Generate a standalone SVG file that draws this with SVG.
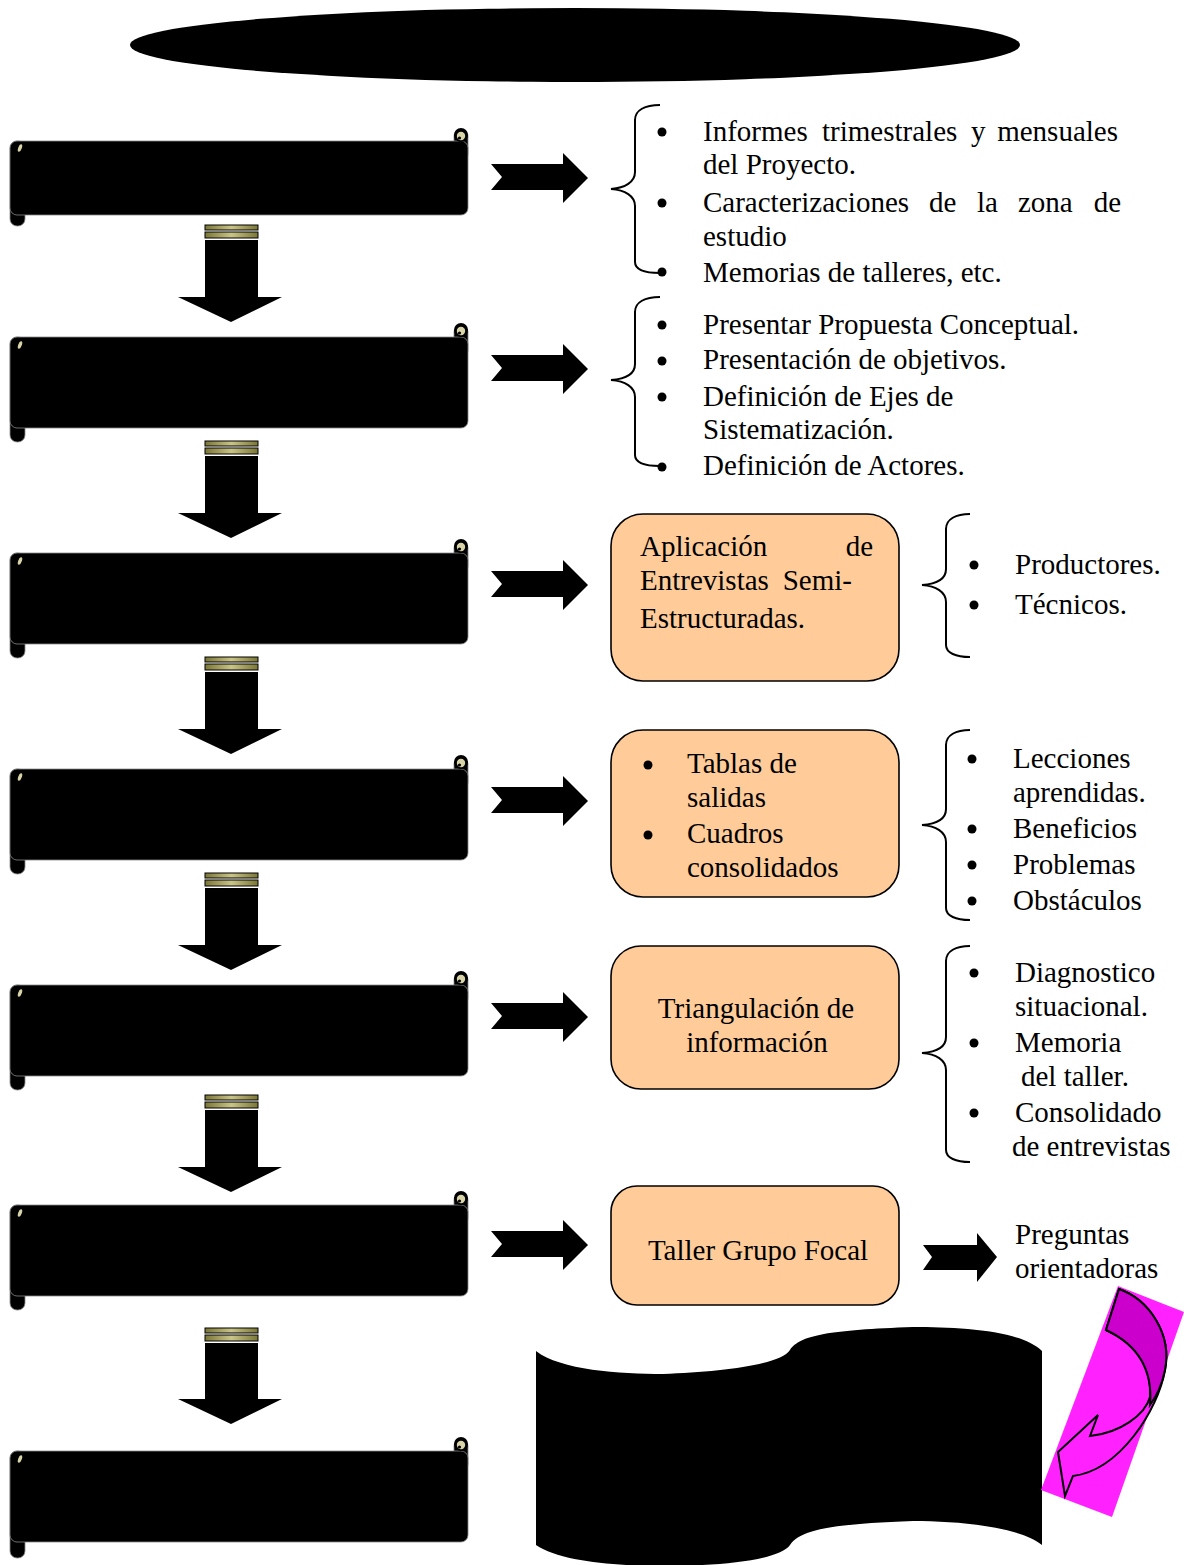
<svg xmlns="http://www.w3.org/2000/svg" width="1184" height="1565" viewBox="0 0 1184 1565">
<style>
.t{font-family:"Liberation Serif","Times New Roman",serif;font-size:29px;fill:#000}
.box{fill:#FFCC99;stroke:#000;stroke-width:1.6}
.brace{fill:none;stroke:#000;stroke-width:2}
.sc{fill:#000;stroke:#888;stroke-width:0.8}
.beige{fill:#D9D3A8}
.bar{fill:url(#olive);stroke:#000;stroke-width:1}
</style>
<defs>
<linearGradient id="olive" x1="0" y1="0" x2="1" y2="0">
<stop offset="0" stop-color="#7a7636"/><stop offset="0.5" stop-color="#c9c487"/><stop offset="1" stop-color="#7a7636"/>
</linearGradient>
<g id="rarrow"><polygon points="491,-14 563,-14 563,-25 588,0 563,25 563,12 491,12 502,-1"/></g>
</defs>

<g id="title"><ellipse cx="575" cy="45" rx="445" ry="37" fill="#000"/></g>

<g id="scrolls">
<g id="scroll1"><rect class="sc" x="10" y="141" width="15" height="85" rx="7"/><rect class="sc" x="454" y="130" width="14" height="30" rx="6"/><rect class="sc" x="10" y="141" width="458" height="74" rx="7"/><circle cx="461" cy="135" r="7" fill="#000"/><circle cx="461" cy="136" r="4.2" class="beige"/><circle cx="459.5" cy="138" r="1.6" fill="#000"/><ellipse cx="20" cy="148" rx="1.8" ry="4" class="beige" transform="rotate(20 20 148)"/></g>
<g id="scroll2"><rect class="sc" x="10" y="337" width="15" height="105" rx="7"/><rect class="sc" x="454" y="326" width="14" height="30" rx="6"/><rect class="sc" x="10" y="337" width="458" height="91" rx="7"/><circle cx="461" cy="330" r="7" fill="#000"/><circle cx="461" cy="331" r="4.2" class="beige"/><circle cx="459.5" cy="333" r="1.6" fill="#000"/><ellipse cx="20" cy="345" rx="1.8" ry="4" class="beige" transform="rotate(20 20 345)"/></g>
<g id="scroll3"><rect class="sc" x="10" y="553" width="15" height="105" rx="7"/><rect class="sc" x="454" y="542" width="14" height="30" rx="6"/><rect class="sc" x="10" y="553" width="458" height="91" rx="7"/><circle cx="461" cy="546" r="7" fill="#000"/><circle cx="461" cy="547" r="4.2" class="beige"/><circle cx="459.5" cy="549" r="1.6" fill="#000"/><ellipse cx="20" cy="561" rx="1.8" ry="4" class="beige" transform="rotate(20 20 561)"/></g>
<g id="scroll4"><rect class="sc" x="10" y="769" width="15" height="105" rx="7"/><rect class="sc" x="454" y="758" width="14" height="30" rx="6"/><rect class="sc" x="10" y="769" width="458" height="91" rx="7"/><circle cx="461" cy="762" r="7" fill="#000"/><circle cx="461" cy="763" r="4.2" class="beige"/><circle cx="459.5" cy="765" r="1.6" fill="#000"/><ellipse cx="20" cy="777" rx="1.8" ry="4" class="beige" transform="rotate(20 20 777)"/></g>
<g id="scroll5"><rect class="sc" x="10" y="985" width="15" height="105" rx="7"/><rect class="sc" x="454" y="974" width="14" height="30" rx="6"/><rect class="sc" x="10" y="985" width="458" height="91" rx="7"/><circle cx="461" cy="978" r="7" fill="#000"/><circle cx="461" cy="979" r="4.2" class="beige"/><circle cx="459.5" cy="981" r="1.6" fill="#000"/><ellipse cx="20" cy="993" rx="1.8" ry="4" class="beige" transform="rotate(20 20 993)"/></g>
<g id="scroll6"><rect class="sc" x="10" y="1205" width="15" height="105" rx="7"/><rect class="sc" x="454" y="1194" width="14" height="30" rx="6"/><rect class="sc" x="10" y="1205" width="458" height="91" rx="7"/><circle cx="461" cy="1198" r="7" fill="#000"/><circle cx="461" cy="1199" r="4.2" class="beige"/><circle cx="459.5" cy="1201" r="1.6" fill="#000"/><ellipse cx="20" cy="1213" rx="1.8" ry="4" class="beige" transform="rotate(20 20 1213)"/></g>
<g id="scroll7"><rect class="sc" x="10" y="1451" width="15" height="107" rx="7"/><rect class="sc" x="454" y="1440" width="14" height="30" rx="6"/><rect class="sc" x="10" y="1451" width="458" height="91" rx="7"/><circle cx="461" cy="1444" r="7" fill="#000"/><circle cx="461" cy="1445" r="4.2" class="beige"/><circle cx="459.5" cy="1447" r="1.6" fill="#000"/><ellipse cx="20" cy="1459" rx="1.8" ry="4" class="beige" transform="rotate(20 20 1459)"/></g>
</g>

<g id="connectors">
<g id="down-arrows">
<g><rect class="bar" x="205" y="225" width="53" height="5"/><rect class="bar" x="205" y="232" width="53" height="6"/><polygon points="205,240 258,240 258,297 282,297 231,322 178,297 205,297"/></g>
<g><rect class="bar" x="205" y="441" width="53" height="5"/><rect class="bar" x="205" y="448" width="53" height="6"/><polygon points="205,456 258,456 258,513 282,513 231,538 178,513 205,513"/></g>
<g><rect class="bar" x="205" y="657" width="53" height="5"/><rect class="bar" x="205" y="664" width="53" height="6"/><polygon points="205,672 258,672 258,729 282,729 231,754 178,729 205,729"/></g>
<g><rect class="bar" x="205" y="873" width="53" height="5"/><rect class="bar" x="205" y="880" width="53" height="6"/><polygon points="205,888 258,888 258,945 282,945 231,970 178,945 205,945"/></g>
<g><rect class="bar" x="205" y="1095" width="53" height="5"/><rect class="bar" x="205" y="1102" width="53" height="6"/><polygon points="205,1110 258,1110 258,1167 282,1167 231,1192 178,1167 205,1167"/></g>
<g><rect class="bar" x="205" y="1328" width="53" height="5"/><rect class="bar" x="205" y="1335" width="53" height="6"/><polygon points="205,1343 258,1343 258,1399 282,1399 231,1424 178,1399 205,1399"/></g>
</g>
<g id="right-arrows">
<use href="#rarrow" transform="translate(0,178)"/>
<use href="#rarrow" transform="translate(0,369)"/>
<use href="#rarrow" transform="translate(0,585)"/>
<use href="#rarrow" transform="translate(0,801)"/>
<use href="#rarrow" transform="translate(0,1017)"/>
<use href="#rarrow" transform="translate(0,1245)"/>
<polygon points="923,1245 977,1245 977,1233 997,1257 977,1282 977,1270 923,1270 932,1257"/>
</g>
<g id="braces">
<path class="brace" d="M660,105 C645,105 635,110 635,120 L635,172 C635,182 625,188 611,189 C625,190 635,196 635,206 L635,262 C635,270 645,273 660,273"/>
<path class="brace" d="M660,297 C645,297 635,302 635,312 L635,364 C635,374 625,379 611,380 C625,381 635,387 635,397 L635,455 C635,463 645,466 660,466"/>
<path class="brace" d="M970,514 C956,514 946,519 946,529 L946,569 C946,579 936,584 922,585 C936,586 946,592 946,602 L946,645 C946,653 956,657 970,657"/>
<path class="brace" d="M970,730 C956,730 946,735 946,745 L946,809 C946,819 936,824 922,825 C936,826 946,832 946,842 L946,908 C946,916 956,920 970,920"/>
<path class="brace" d="M970,946 C956,946 946,951 946,961 L946,1037 C946,1047 936,1052 922,1053 C936,1054 946,1060 946,1070 L946,1150 C946,1158 956,1162 970,1162"/>
</g>
</g>

<g id="list1">
<circle cx="662" cy="132" r="4.5"/><circle cx="662" cy="203" r="4.5"/><circle cx="662" cy="272" r="4.5"/>
<text class="t" x="703" y="141">Informes</text><text class="t" x="822" y="141">trimestrales</text><text class="t" x="971" y="141">y</text><text class="t" x="1118" y="141" text-anchor="end">mensuales</text>
<text class="t" x="703" y="174">del Proyecto.</text>
<text class="t" x="703" y="212">Caracterizaciones</text><text class="t" x="929" y="212">de</text><text class="t" x="977" y="212">la</text><text class="t" x="1018" y="212">zona</text><text class="t" x="1121" y="212" text-anchor="end">de</text>
<text class="t" x="703" y="246">estudio</text>
<text class="t" x="703" y="282">Memorias de talleres, etc.</text>
</g>

<g id="list2">
<circle cx="662" cy="325" r="4.5"/><circle cx="662" cy="361" r="4.5"/><circle cx="662" cy="397" r="4.5"/><circle cx="662" cy="467" r="4.5"/>
<text class="t" x="703" y="334">Presentar Propuesta Conceptual.</text>
<text class="t" x="703" y="369">Presentación de objetivos.</text>
<text class="t" x="703" y="406">Definición de Ejes de</text>
<text class="t" x="703" y="439">Sistematización.</text>
<text class="t" x="703" y="475">Definición de Actores.</text>
</g>

<g id="box1">
<rect class="box" x="611" y="514" width="288" height="167" rx="32"/>
<text class="t" x="640" y="556">Aplicación</text><text class="t" x="873" y="556" text-anchor="end">de</text>
<text class="t" x="640" y="590">Entrevistas</text><text class="t" x="852" y="590" text-anchor="end">Semi-</text>
<text class="t" x="640" y="628">Estructuradas.</text>
</g>
<g id="list3">
<circle cx="974" cy="565" r="4.5"/><circle cx="974" cy="605" r="4.5"/>
<text class="t" x="1015" y="574">Productores.</text>
<text class="t" x="1015" y="614">Técnicos.</text>
</g>

<g id="box2">
<rect class="box" x="611" y="730" width="288" height="167" rx="32"/>
<circle cx="648" cy="765" r="4.5"/><circle cx="648" cy="835" r="4.5"/>
<text class="t" x="687" y="773">Tablas de</text>
<text class="t" x="687" y="807">salidas</text>
<text class="t" x="687" y="843">Cuadros</text>
<text class="t" x="687" y="877">consolidados</text>
</g>
<g id="list4">
<circle cx="972" cy="759" r="4.5"/><circle cx="972" cy="829" r="4.5"/><circle cx="972" cy="865" r="4.5"/><circle cx="972" cy="901" r="4.5"/>
<text class="t" x="1013" y="768">Lecciones</text>
<text class="t" x="1013" y="802">aprendidas.</text>
<text class="t" x="1013" y="838">Beneficios</text>
<text class="t" x="1013" y="874">Problemas</text>
<text class="t" x="1013" y="910">Obstáculos</text>
</g>

<g id="box3">
<rect class="box" x="611" y="946" width="288" height="143" rx="30"/>
<text class="t" x="756" y="1018" text-anchor="middle">Triangulación de</text>
<text class="t" x="757" y="1052" text-anchor="middle">información</text>
</g>
<g id="list5">
<circle cx="974" cy="973" r="4.5"/><circle cx="974" cy="1043" r="4.5"/><circle cx="974" cy="1113" r="4.5"/>
<text class="t" x="1015" y="982">Diagnostico</text>
<text class="t" x="1015" y="1016">situacional.</text>
<text class="t" x="1015" y="1052">Memoria</text>
<text class="t" x="1021" y="1086">del taller.</text>
<text class="t" x="1015" y="1122">Consolidado</text>
<text class="t" x="1012" y="1156">de entrevistas</text>
</g>

<g id="box4">
<rect class="box" x="611" y="1186" width="288" height="119" rx="26"/>
<text class="t" x="758" y="1260" text-anchor="middle">Taller Grupo Focal</text>
</g>
<g id="preguntas">
<text class="t" x="1015" y="1244">Preguntas</text>
<text class="t" x="1015" y="1278">orientadoras</text>
</g>

<g id="banner">
<path fill="#000" d="M536,1351 C560,1370 620,1374 663,1374 C720,1372 780,1365 790,1350 C800,1335 830,1330 913,1327 C960,1327 1020,1330 1042,1351 L1042,1545 C1020,1527 960,1521 913,1521 C830,1524 800,1530 790,1545 C780,1560 720,1566 663,1566 C620,1566 560,1562 536,1545 Z"/>
</g>

<g id="curved-arrow">
<polygon points="1118,1286 1184,1312 1112,1517 1041,1490" fill="#FF22FF"/>
<path d="M1119,1289 C1150,1300 1172,1335 1165,1370 C1158,1410 1120,1470 1073,1476 L1065,1496 L1058,1452 L1098,1415 L1090,1436 C1120,1433 1145,1415 1150,1397 C1152,1365 1135,1343 1106,1330 Z" fill="#FF22FF" stroke="#000" stroke-width="2" stroke-linejoin="miter"/>
<path d="M1119,1289 C1150,1300 1172,1335 1165,1370 C1162,1385 1156,1397 1150,1405 C1153,1370 1138,1345 1106,1330 Z" fill="#CC00CC" stroke="#000" stroke-width="2"/>
</g>
</svg>
